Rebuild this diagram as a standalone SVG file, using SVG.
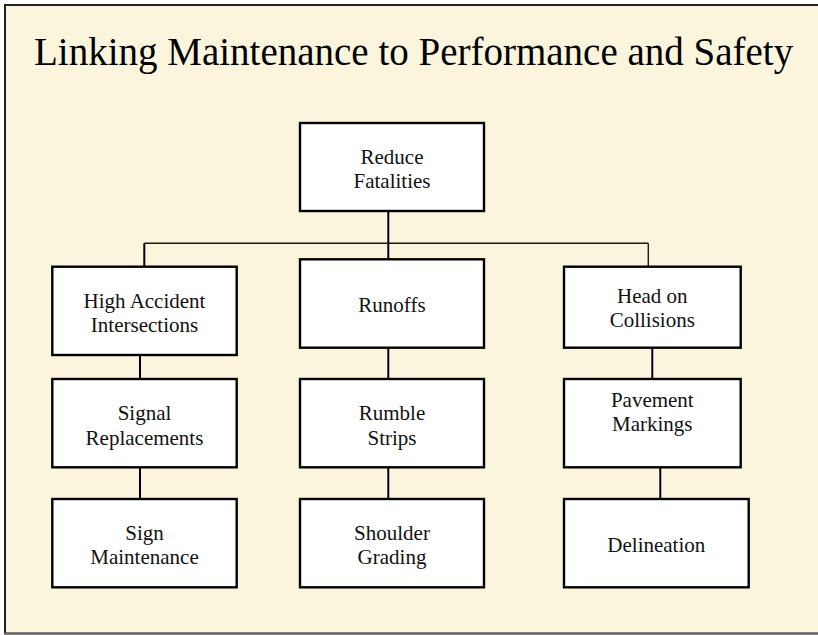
<svg xmlns="http://www.w3.org/2000/svg" width="818" height="635" viewBox="0 0 818 635">
<style>
.box{fill:#FFFFFF;stroke:#000000;stroke-width:2.4}
.lbl{font-family:'Liberation Serif','Times New Roman','DejaVu Serif',serif;font-size:21px;fill:#111111;text-anchor:middle}
.title{font-family:'Liberation Serif','Times New Roman','DejaVu Serif',serif;font-size:39px;fill:#000000}
.con{stroke:#000000;stroke-width:2;fill:none}
.thin{stroke:#1a1a10;stroke-width:1.4;fill:none}
</style>
<rect x="0" y="0" width="818" height="635" fill="#FFFFFF"/>
<rect x="5" y="5" width="830" height="628.5" fill="#FCF5DD" stroke="#222222" stroke-width="2"/>
<line x1="4" y1="633.5" x2="818" y2="633.5" stroke="#666666" stroke-width="1.5"/>
<text class="title" x="34" y="65" font-family="Liberation Serif, serif">Linking Maintenance to Performance and Safety</text>
<g id="connectors">
<line class="con" x1="388.3" y1="211" x2="388.3" y2="259.3"/>
<line class="thin" x1="144.3" y1="243.3" x2="648.3" y2="243.3"/>
<line class="con" x1="144.3" y1="243.3" x2="144.3" y2="266.7"/>
<line class="thin" x1="648.3" y1="243.3" x2="648.3" y2="266.7"/>
<line class="con" x1="140" y1="355" x2="140" y2="379"/>
<line class="con" x1="388.3" y1="347.7" x2="388.3" y2="379"/>
<line class="con" x1="652.3" y1="347.7" x2="652.3" y2="379"/>
<line class="con" x1="140" y1="467.3" x2="140" y2="499"/>
<line class="con" x1="388.3" y1="467.3" x2="388.3" y2="499"/>
<line class="con" x1="660.3" y1="467.3" x2="660.3" y2="499"/>
</g>
<g id="reduce-fatalities">
<rect class="box" x="300" y="123" width="184" height="88"/>
<text class="lbl" x="392" y="163.5">Reduce</text>
<text class="lbl" x="392" y="188.3">Fatalities</text>
</g>
<g id="high-accident">
<rect class="box" x="52.3" y="266.7" width="184.4" height="88.3"/>
<text class="lbl" x="144.5" y="307.7">High Accident</text>
<text class="lbl" x="144.5" y="332.3">Intersections</text>
</g>
<g id="runoffs">
<rect class="box" x="300" y="259.3" width="184" height="88.4"/>
<text class="lbl" x="392" y="312">Runoffs</text>
</g>
<g id="head-on">
<rect class="box" x="564" y="266.7" width="176.7" height="81"/>
<text class="lbl" x="652.3" y="302.7">Head on</text>
<text class="lbl" x="652.3" y="327.3">Collisions</text>
</g>
<g id="signal-replacements">
<rect class="box" x="52.3" y="379" width="184.4" height="88.3"/>
<text class="lbl" x="144.5" y="420">Signal</text>
<text class="lbl" x="144.5" y="445">Replacements</text>
</g>
<g id="rumble-strips">
<rect class="box" x="300" y="379" width="184" height="88.3"/>
<text class="lbl" x="392" y="419.5">Rumble</text>
<text class="lbl" x="392" y="445">Strips</text>
</g>
<g id="pavement-markings">
<rect class="box" x="564" y="379" width="176.7" height="88.3"/>
<text class="lbl" x="652.3" y="406.7">Pavement</text>
<text class="lbl" x="652.3" y="431">Markings</text>
</g>
<g id="sign-maintenance">
<rect class="box" x="52.3" y="499" width="184.4" height="88.3"/>
<text class="lbl" x="144.5" y="540">Sign</text>
<text class="lbl" x="144.5" y="564.3">Maintenance</text>
</g>
<g id="shoulder-grading">
<rect class="box" x="300" y="499" width="184" height="88.3"/>
<text class="lbl" x="392" y="540">Shoulder</text>
<text class="lbl" x="392" y="564.3">Grading</text>
</g>
<g id="delineation">
<rect class="box" x="564" y="499" width="184.7" height="88.3"/>
<text class="lbl" x="656.3" y="552.3">Delineation</text>
</g>
</svg>
